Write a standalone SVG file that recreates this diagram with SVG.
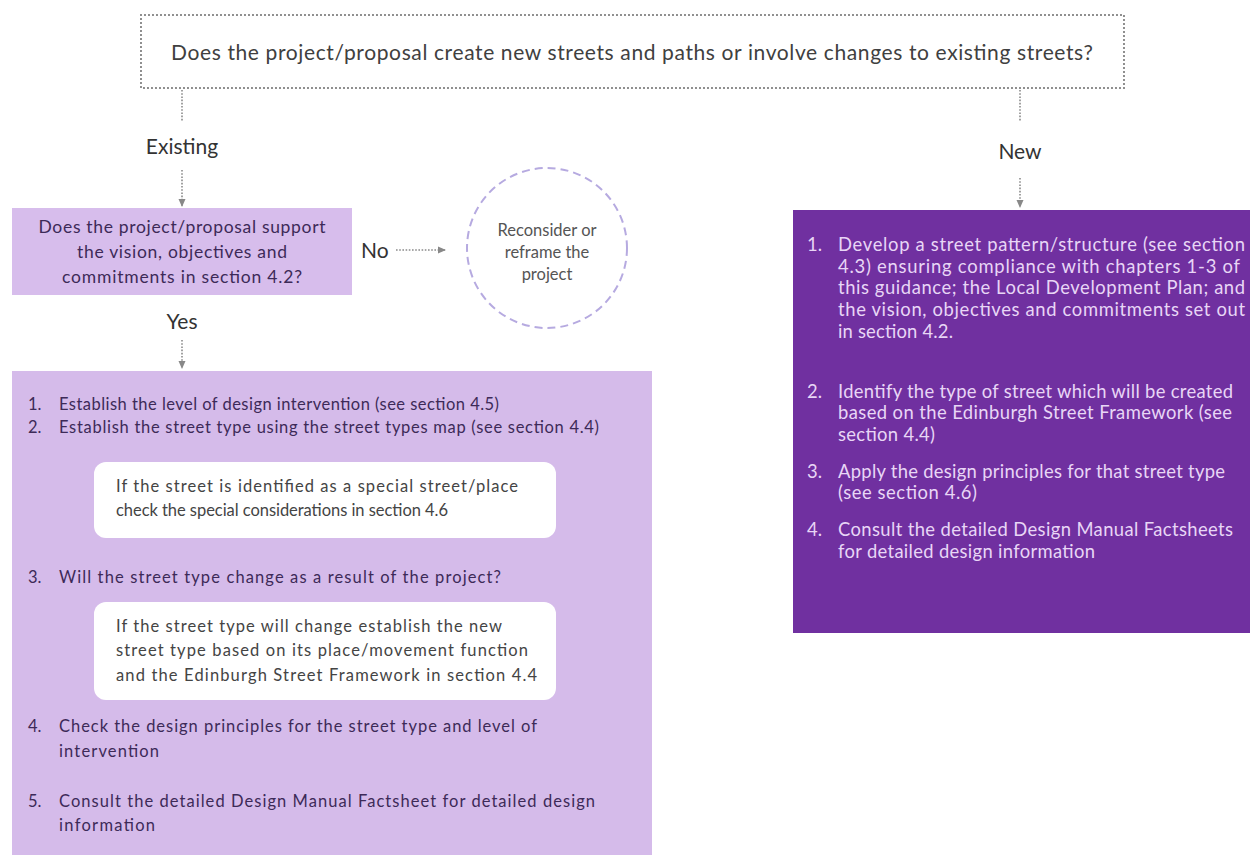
<svg xmlns="http://www.w3.org/2000/svg" width="1253" height="864" viewBox="0 0 1253 864">
<defs>
<marker id="ah" viewBox="0 0 8 8" refX="7" refY="4" markerWidth="8" markerHeight="8" markerUnits="userSpaceOnUse" orient="auto">
<path d="M0,0.5 L8,4 L0,7.5 Z" fill="#888"/>
</marker>
<style>
.t{font-family:Lato,"Open Sans","Liberation Sans",sans-serif}
.dot{fill:none;stroke:#8a8a8a;stroke-width:1.6;stroke-dasharray:1.6 1.6}
.q{font-size:21px;fill:#404040}
.lab{font-size:21px;fill:#333}
.lb{font-size:16.5px;fill:#3d2a58}
.wb{font-size:16.5px;fill:#444}
.rb{font-size:18.4px;fill:#e8d6f6}
.ub{font-size:17.5px;fill:#3d2a58}
.cc{font-size:16.5px;fill:#555}
</style>
</defs>
<rect width="1253" height="864" fill="#fff"/>

<g id="question">
<rect x="141" y="15" width="983" height="73" fill="#fff" stroke="#777" stroke-width="2.2" stroke-dasharray="0 4" stroke-linecap="round"/>
<text class="t q" x="171" y="60" textLength="922">Does the project/proposal create new streets and paths or involve changes to existing streets?</text>
</g>

<g id="label-existing"><text class="t lab" x="182" y="154" text-anchor="middle">Existing</text></g>
<g id="label-new"><text class="t lab" x="1020" y="159" text-anchor="middle">New</text></g>

<g id="support-question">
<rect x="12" y="208" width="340" height="87" fill="#d7bdec"/>
<text class="t ub" x="182" y="233" text-anchor="middle" textLength="287">Does the project/proposal support</text>
<text class="t ub" x="182" y="258" text-anchor="middle" textLength="210">the vision, objectives and</text>
<text class="t ub" x="182" y="283" text-anchor="middle" textLength="240">commitments  in section 4.2?</text>
</g>

<g id="label-no"><text class="t lab" x="361" y="258">No</text></g>
<g id="label-yes"><text class="t lab" x="182" y="329" text-anchor="middle">Yes</text></g>

<g id="reconsider">
<circle cx="547" cy="248" r="80" fill="#fff" stroke="#b6aae0" stroke-width="2" stroke-dasharray="8 5"/>
<text class="t cc" x="547" y="236" text-anchor="middle">Reconsider or</text>
<text class="t cc" x="547" y="258" text-anchor="middle">reframe the</text>
<text class="t cc" x="547" y="280" text-anchor="middle">project</text>
</g>

<g id="existing-steps">
<rect x="12" y="371" width="640" height="484" fill="#d5bbea"/>
<text class="t lb" x="28" y="410">1.</text>
<text class="t lb" x="59" y="410" textLength="440">Establish the level of design intervention (see section 4.5)</text>
<text class="t lb" x="28" y="433">2.</text>
<text class="t lb" x="59" y="433" textLength="540">Establish the street type using the street types map (see section 4.4)</text>
<rect x="94" y="462" width="462" height="76" rx="12" fill="#fff"/>
<text class="t wb" x="116" y="492" textLength="402">If the  street is identified as a special street/place</text>
<text class="t wb" x="116" y="516" textLength="332">check the special considerations in section 4.6</text>
<text class="t lb" x="28" y="583">3.</text>
<text class="t lb" x="59" y="583" textLength="442">Will the street type change as a result of the project?</text>
<rect x="94" y="602" width="462" height="98" rx="12" fill="#fff"/>
<text class="t wb" x="116" y="632" textLength="386">If the  street type will change establish the new</text>
<text class="t wb" x="116" y="656" textLength="412">street type based on its place/movement  function</text>
<text class="t wb" x="116" y="681" textLength="421">and the Edinburgh Street Framework  in section 4.4</text>
<text class="t lb" x="28" y="732">4.</text>
<text class="t lb" x="59" y="732" textLength="478">Check the design principles for the street type and level of</text>
<text class="t lb" x="59" y="757" textLength="100">intervention</text>
<text class="t lb" x="28" y="807">5.</text>
<text class="t lb" x="59" y="807" textLength="536">Consult the detailed Design Manual Factsheet for detailed design</text>
<text class="t lb" x="59" y="831" textLength="96">information</text>
</g>

<g id="new-steps">
<rect x="793" y="210" width="457" height="423" fill="#7030a0"/>
<text class="t rb" x="807" y="251">1.</text>
<text class="t rb" x="838" y="251" textLength="407">Develop a street pattern/structure  (see section</text>
<text class="t rb" x="838" y="273" textLength="402">4.3) ensuring compliance  with chapters 1-3 of</text>
<text class="t rb" x="838" y="294" textLength="407">this guidance; the Local Development  Plan; and</text>
<text class="t rb" x="838" y="316" textLength="407">the vision, objectives and commitments  set out</text>
<text class="t rb" x="838" y="338" textLength="115">in section 4.2.</text>
<text class="t rb" x="807" y="398">2.</text>
<text class="t rb" x="838" y="398" textLength="395">Identify the type of street which will be created</text>
<text class="t rb" x="838" y="419" textLength="394">based on the Edinburgh Street Framework  (see</text>
<text class="t rb" x="838" y="441" textLength="97">section 4.4)</text>
<text class="t rb" x="807" y="478">3.</text>
<text class="t rb" x="838" y="478" textLength="387">Apply the design principles for that street type</text>
<text class="t rb" x="838" y="499" textLength="139">(see section 4.6)</text>
<text class="t rb" x="807" y="536">4.</text>
<text class="t rb" x="838" y="536" textLength="395">Consult the detailed Design Manual Factsheets</text>
<text class="t rb" x="838" y="558" textLength="257">for detailed design information</text>
</g>

<g id="connectors">
<line class="dot" x1="182" y1="90" x2="182" y2="122"/>
<line class="dot" x1="1020" y1="90" x2="1020" y2="122"/>
<line class="dot" x1="182" y1="170" x2="182" y2="206" marker-end="url(#ah)"/>
<line class="dot" x1="1020" y1="178" x2="1020" y2="207" marker-end="url(#ah)"/>
<line class="dot" x1="396" y1="250" x2="445" y2="250" marker-end="url(#ah)"/>
<line class="dot" x1="182" y1="340" x2="182" y2="368" marker-end="url(#ah)"/>
</g>
</svg>
